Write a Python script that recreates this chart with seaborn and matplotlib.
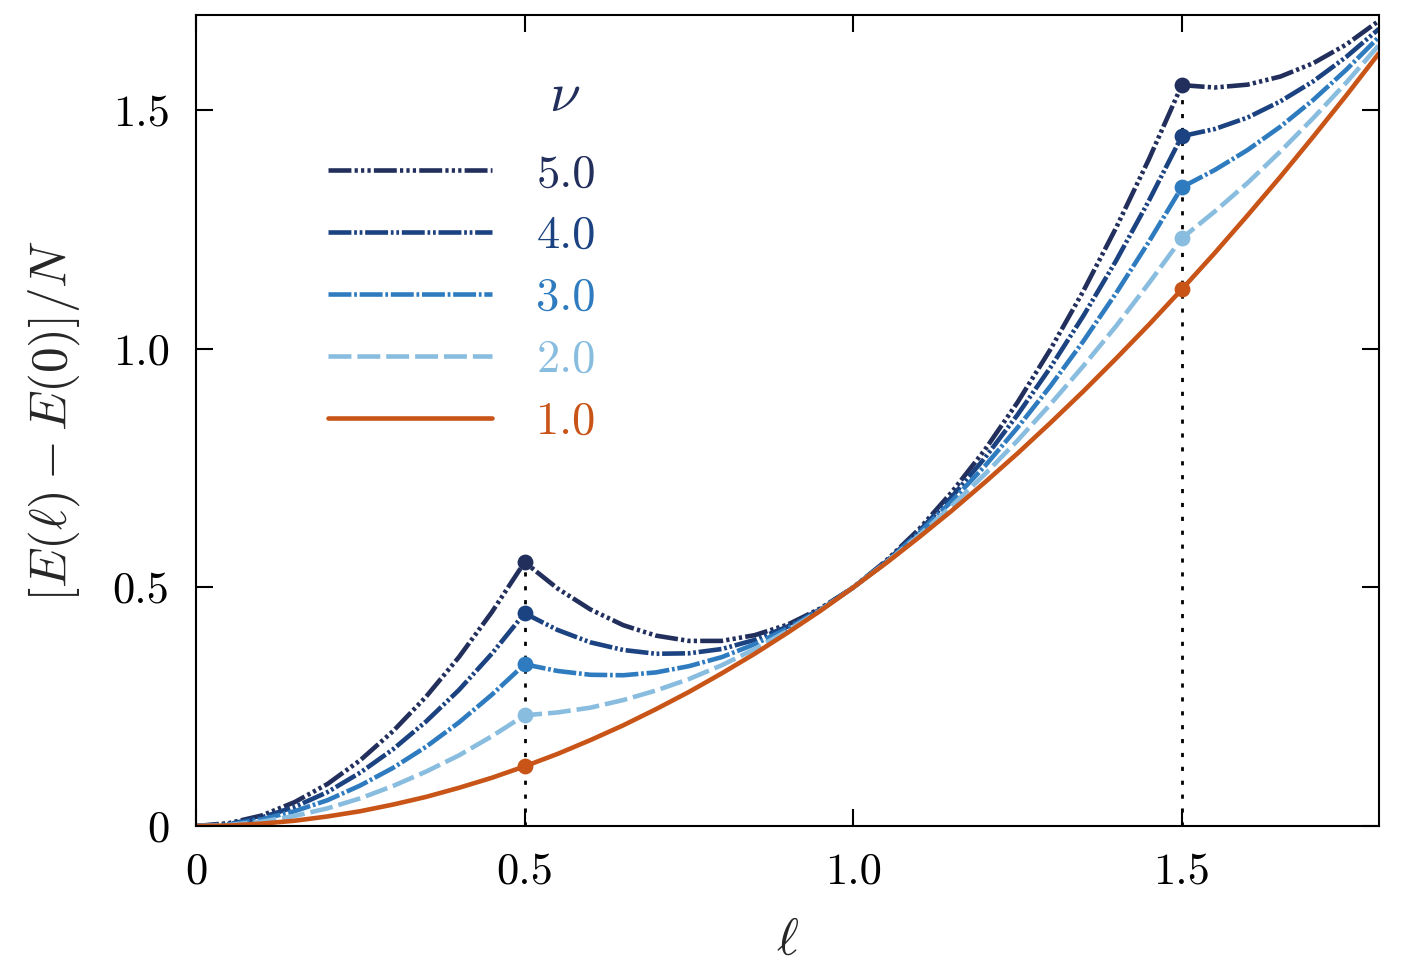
import numpy as np
import pandas as pd
import seaborn as sns
import matplotlib.pyplot as plt

# valores
ell = [0.00, 0.05, 0.10, 0.15, 0.20, 0.25, 0.30, 0.35, 0.40, 0.45, 0.50,
       0.55, 0.60, 0.65, 0.70, 0.75, 0.80, 0.85, 0.90, 0.95, 1.00,
       1.05, 1.10, 1.15, 1.20, 1.25, 1.30, 1.35, 1.40, 1.45, 1.50,
       1.55, 1.60, 1.65, 1.70, 1.75, 1.80]

E_nu1 = [0, .001, .005, .011, .020, .031, .045, .061, .080, .101, .125,
         .151, .180, .211, .245, .281, .320, .361, .405, .451, .500,
         .551, .605, .661, .720, .781, .845, .911, .980, 1.051, 1.125,
         1.201, 1.280, 1.361, 1.445, 1.531, 1.620]
E_nu2 = [0, .002, .009, .021, .037, .058, .084, .114, .148, .188, .232,
         .238, .248, .264, .284, .308, .337, .371, .409, .452, .500,
         .552, .609, .671, .737, .808, .884, .964, 1.048, 1.138, 1.232,
         1.288, 1.348, 1.414, 1.484, 1.558, 1.637]
E_nu3 = [0, .003, .014, .031, .054, .085, .122, .166, .217, .275, .339,
         .325, .317, .316, .322, .335, .354, .381, .414, .453, .500,
         .553, .614, .681, .754, .835, .922, 1.016, 1.117, 1.225, 1.339,
         1.375, 1.417, 1.466, 1.522, 1.585, 1.654]
E_nu4 = [0, .004, .018, .040, .071, .112, .161, .219, .285, .361, .446,
         .411, .385, .369, .361, .362, .371, .390, .418, .454, .500,
         .554, .618, .690, .771, .862, .961, 1.069, 1.185, 1.311, 1.446,
         1.461, 1.485, 1.519, 1.561, 1.612, 1.671]
E_nu5 = [0, .006, .022, .050, .088, .138, .199, .271, .354, .448, .553,
         .498, .454, .421, .399, .388, .388, .400, .422, .456, .500,
         .556, .622, .700, .788, .888, .999, 1.121, 1.254, 1.398, 1.553,
         1.548, 1.554, 1.571, 1.599, 1.638, 1.688]

nu_labels = ['5.0', '4.0', '3.0', '2.0', '1.0']
curvas = [E_nu5, E_nu4, E_nu3, E_nu2, E_nu1]
cores = ['#222f5c', '#1b4281', '#2e7cbf', '#89bddf', '#c85417']
tracos = [(5, 0.7, 0.7, 0.7, 0.7, 0.7, 0.7, 0.7),
          (5, 0.6, 0.6, 0.6, 0.6, 0.6),
          (5, 0.6, 0.6, 0.6),
          (5, 1.3),
          None]
ell_pontos = [0.5, 1.5]

sns.set_theme(style='white')
plt.rcParams['font.family'] = ['cmr10', 'DejaVu Serif']
plt.rcParams['mathtext.fontset'] = 'cm'
plt.rcParams['axes.unicode_minus'] = False

fig = plt.figure(figsize=(14.23, 9.68), dpi=100, facecolor='w')
ax = fig.add_axes([196 / 1423, 1 - 826 / 968, 1183 / 1423, 811 / 968])

idx = [ell.index(p) for p in ell_pontos]

# linhas pontilhadas verticais
ax.vlines(ell_pontos, 0, [E_nu5[i] for i in idx], colors='black',
          linestyles=(0, (1.5, 3.5)), linewidth=2, zorder=1)

for lab, E, cor, tr in zip(nu_labels, curvas, cores, tracos):
    df = pd.DataFrame({'ell': ell, 'E': E})
    sns.lineplot(data=df, x='ell', y='E', color=cor, linewidth=3.3,
                 label=lab, ax=ax, zorder=2)
    linha = ax.lines[-1]
    if tr is None:
        linha.set_linestyle('-')
    else:
        linha.set_dashes(tr)
    pts = pd.DataFrame({'ell': ell_pontos, 'E': [E[i] for i in idx]})
    sns.scatterplot(data=pts, x='ell', y='E', color=cor, s=130,
                    linewidth=0, ax=ax, zorder=3, legend=False)

ax.set_xlim(0, 1.8)
ax.set_ylim(0, 1.7)
ax.set_xticks([0, 0.5, 1.0, 1.5], ['0', '0.5', '1.0', '1.5'])
ax.set_yticks([0, 0.5, 1.0, 1.5], ['0', '0.5', '1.0', '1.5'])
ax.tick_params(direction='in', length=12, width=1.5, labelsize=32, pad=19,
               top=True, right=True, bottom=True, left=True, colors='black')
for s in ax.spines.values():
    s.set_linewidth(1.5)
    s.set_color('black')
ax.set_xlabel(r'$\ell$', fontsize=38, labelpad=18)
ax.set_ylabel(r'$[E(\ell) - E(0)]/N$', fontsize=37, labelpad=22)

leg = ax.legend(loc='upper left', bbox_to_anchor=(0.1116, 0.829), frameon=False,
                fontsize=33.5, handlelength=3.53, handletextpad=0.95,
                labelspacing=0.435, borderpad=0, borderaxespad=0,
                labelcolor='linecolor')
ax.text(0.312, 0.899, r'$\nu$', transform=ax.transAxes, fontsize=40,
        color=cores[0], ha='center', va='center')

plt.savefig('out.png', dpi=100, facecolor='w')
